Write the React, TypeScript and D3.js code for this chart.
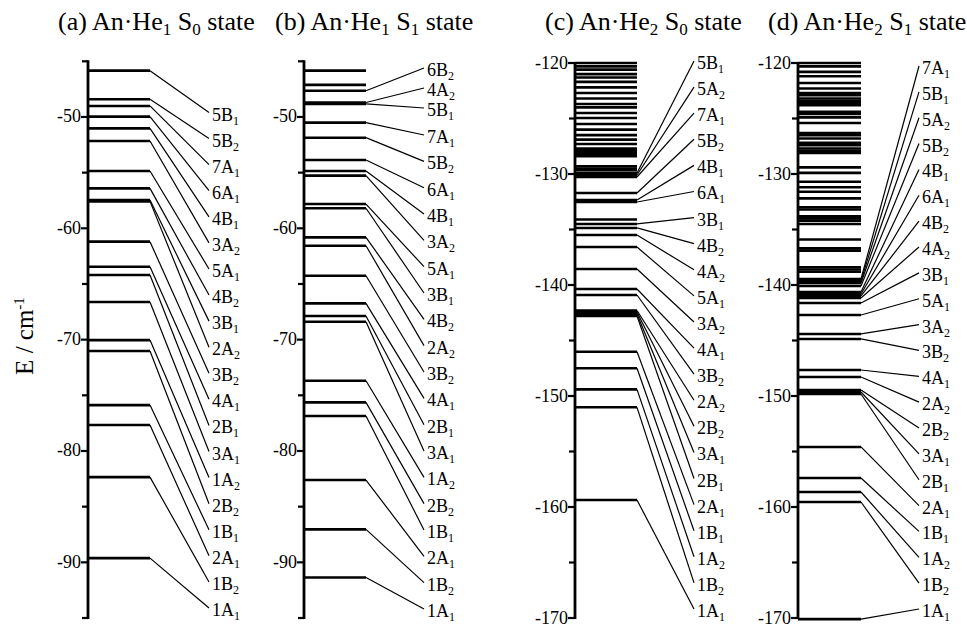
import * as d3 from 'd3';

// ---- data (energies in cm^-1) ----
const panelTags = ['(a)', '(b)', '(c)', '(d)'];
const heCount = ['1', '1', '2', '2'];
const stateIdx = ['0', '1', '0', '1'];

const aLevels = [-45.84, -48.41, -49.01, -49.97, -51.02, -52.16, -54.85, -56.41, -57.46, -57.58,
  -61.2, -63.45, -64.2, -66.62, -70.04, -71.02, -75.88, -77.67, -82.35, -89.62];
const aLabels = ['5B1', '5B2', '7A1', '6A1', '4B1', '3A2', '5A1', '4B2', '3B1', '2A2',
  '3B2', '4A1', '2B1', '3A1', '1A2', '2B2', '1B1', '2A1', '1B2', '1A1'];

const bLevels = [-47.64, -48.7, -48.83, -50.51, -51.86, -53.86, -54.85, -55.27, -57.82, -58.2,
  -60.81, -61.56, -64.26, -66.74, -67.88, -68.39, -73.69, -75.63, -76.86, -82.61, -87.04, -91.36];
const bLabels = ['6B2', '4A2', '5B1', '7A1', '5B2', '6A1', '4B1', '3A2', '5A1', '3B1', '4B2',
  '2A2', '3B2', '4A1', '2B1', '3A1', '1A2', '2B2', '1B1', '2A1', '1B2', '1A1'];
const bExtra = [-45.84, -47.12];

const cLevels = [-129.91, -130.09, -130.27, -131.71, -132.34, -132.52, -134.5, -134.86, -135.5, -136.58,
  -138.56, -140.36, -140.9, -142.3, -142.43, -142.61, -142.79, -146.01, -147.5, -149.4, -151.02, -159.37];
const cLabels = ['5B1', '5A2', '7A1', '5B2', '4B1', '6A1', '3B1', '4B2', '4A2', '5A1', '3A2',
  '4A1', '3B2', '2A2', '2B2', '3A1', '2B1', '2A1', '1B1', '1A2', '1B2', '1A1'];
const cExtra = [-120.0, -120.3, -120.6, -121.0, -121.3, -121.7, -122.2, -122.7, -123.2, -123.7,
  -124.0, -124.5, -124.95, -125.5, -126.0, -126.5, -126.9, -127.3, -127.7, -127.85, -128.0,
  -128.2, -128.4, -129.3, -129.5, -129.65, -134.1];

const dLevels = [-139.46, -139.64, -139.82, -140.09, -140.63, -140.81, -140.99, -141.17, -141.62, -142.7,
  -144.41, -144.86, -147.66, -148.29, -149.46, -149.64, -149.82, -154.59, -157.39, -158.65, -159.55, -170.1];
const dLabels = ['7A1', '5B1', '5A2', '5B2', '4B1', '6A1', '4B2', '4A2', '3B1', '5A1', '3A2',
  '3B2', '4A1', '2A2', '2B2', '3A1', '2B1', '2A1', '1B1', '1A2', '1B2', '1A1'];
const dExtra = [-120.0, -120.3, -120.8, -121.2, -121.8, -122.3, -122.7, -122.9, -123.2, -123.4,
  -123.6, -123.8, -124.4, -124.6, -124.9, -125.4, -126.3, -126.5, -126.8, -127.2, -127.4, -127.7,
  -127.9, -128.1, -129.4, -129.9, -130.7, -131.2, -131.6, -132.2, -133.0, -133.2, -133.8, -134.0,
  -134.2, -134.5, -135.9, -136.7, -136.9, -138.4, -138.6, -138.8];

// ---- layout ----
const FONT = 'Liberation Serif, Times New Roman, Times, serif';
const W = 967;
const H = 626;

const panels = [
  { levels: aLevels, labels: aLabels, extra: [] as number[], domain: [-45, -95], yTop: 61.3, yBottom: 618,
    axisX: 88, levelEnd: 150, connEnd: 209, labelX: 212, slotTop: 114.5, slotBottom: 610, fixedSlots: [] as number[], titleX: 58 },
  { levels: bLevels, labels: bLabels, extra: bExtra, domain: [-45, -95], yTop: 61.3, yBottom: 618,
    axisX: 304, levelEnd: 366, connEnd: 424, labelX: 427, slotTop: 137, slotBottom: 611, fixedSlots: [70, 90, 110], titleX: 275 },
  { levels: cLevels, labels: cLabels, extra: cExtra, domain: [-120, -170], yTop: 63, yBottom: 618,
    axisX: 575, levelEnd: 637, connEnd: 694, labelX: 697, slotTop: 63, slotBottom: 611, fixedSlots: [], titleX: 545 },
  { levels: dLevels, labels: dLabels, extra: dExtra, domain: [-120, -170], yTop: 63, yBottom: 618,
    axisX: 798, levelEnd: 861, connEnd: 919, labelX: 922, slotTop: 68, slotBottom: 611, fixedSlots: [], titleX: 768 },
];

function slotsFor(p: any) {
  const n = p.labels.length - p.fixedSlots.length;
  const s = d3.scaleLinear().domain([0, n - 1]).range([p.slotTop, p.slotBottom]);
  return [...p.fixedSlots, ...d3.range(n).map((i) => s(i))];
}

function Sym({ x, y, text }: { x: number; y: number; text: string }) {
  return (
    <text x={x} y={y} fontSize={18} style={{ fontFamily: FONT }}>
      {text.slice(0, -1)}
      <tspan dy={4} fontSize={12}>{text.slice(-1)}</tspan>
    </text>
  );
}

function Panel({ p, i }: { p: any; i: number }) {
  const y = d3.scaleLinear().domain(p.domain).range([p.yTop, p.yBottom]);
  const slots = slotsFor(p);
  const ticks = d3.range(p.domain[0], p.domain[1] - 0.1, -5);
  const x0 = p.axisX;

  return (
    <g>
      <text x={p.titleX} y={30} fontSize={26} style={{ fontFamily: FONT }}>
        {panelTags[i]} An·He
        <tspan dy={5} fontSize={17}>{heCount[i]}</tspan>
        <tspan dy={-5}> S</tspan>
        <tspan dy={5} fontSize={17}>{stateIdx[i]}</tspan>
        <tspan dy={-5}> state</tspan>
      </text>

      {/* axis */}
      <line x1={x0} x2={x0} y1={y(p.domain[0]) - 1} y2={y(p.domain[1]) + 1} stroke="#000" strokeWidth={2.8} />
      {ticks.map((t: number) => {
        const major = Math.abs(t % 10) < 0.01;
        return (
          <g key={t}>
            <line x1={x0 - (major ? 7 : 6)} x2={x0} y1={y(t)} y2={y(t)} stroke="#000" strokeWidth={2.2} />
            {major ? (
              <text x={x0 - 7} y={y(t) + 5.5} textAnchor="end" fontSize={18} style={{ fontFamily: FONT }}>
                {String(t)}
              </text>
            ) : null}
          </g>
        );
      })}

      {/* unlabelled levels */}
      {p.extra.map((v: number, k: number) => (
        <line key={'e' + k} x1={x0} x2={p.levelEnd} y1={y(v)} y2={y(v)} stroke="#000" strokeWidth={2.6} />
      ))}

      {/* labelled levels with connectors */}
      {p.levels.map((v: number, k: number) => (
        <g key={'l' + k}>
          <line x1={x0} x2={p.levelEnd} y1={y(v)} y2={y(v)} stroke="#000" strokeWidth={2.6} />
          <line x1={p.levelEnd} y1={y(v)} x2={p.connEnd} y2={slots[k] - 2} stroke="#000" strokeWidth={1.2} />
          <Sym x={p.labelX} y={slots[k] + 6} text={p.labels[k]} />
        </g>
      ))}
    </g>
  );
}

export default function App() {
  return (
    <div style={{ position: 'absolute', left: 0, top: 0 }}>
      <svg width={W} height={H} style={{ display: 'block', background: '#fff' }}>
        <text transform="translate(33,336) rotate(-90)" textAnchor="middle" fontSize={25} style={{ fontFamily: FONT }}>
          E / cm
          <tspan dy={-9} fontSize={15}>-1</tspan>
        </text>
        {panels.map((p, i) => (
          <Panel key={i} p={p} i={i} />
        ))}
      </svg>
    </div>
  );
}
